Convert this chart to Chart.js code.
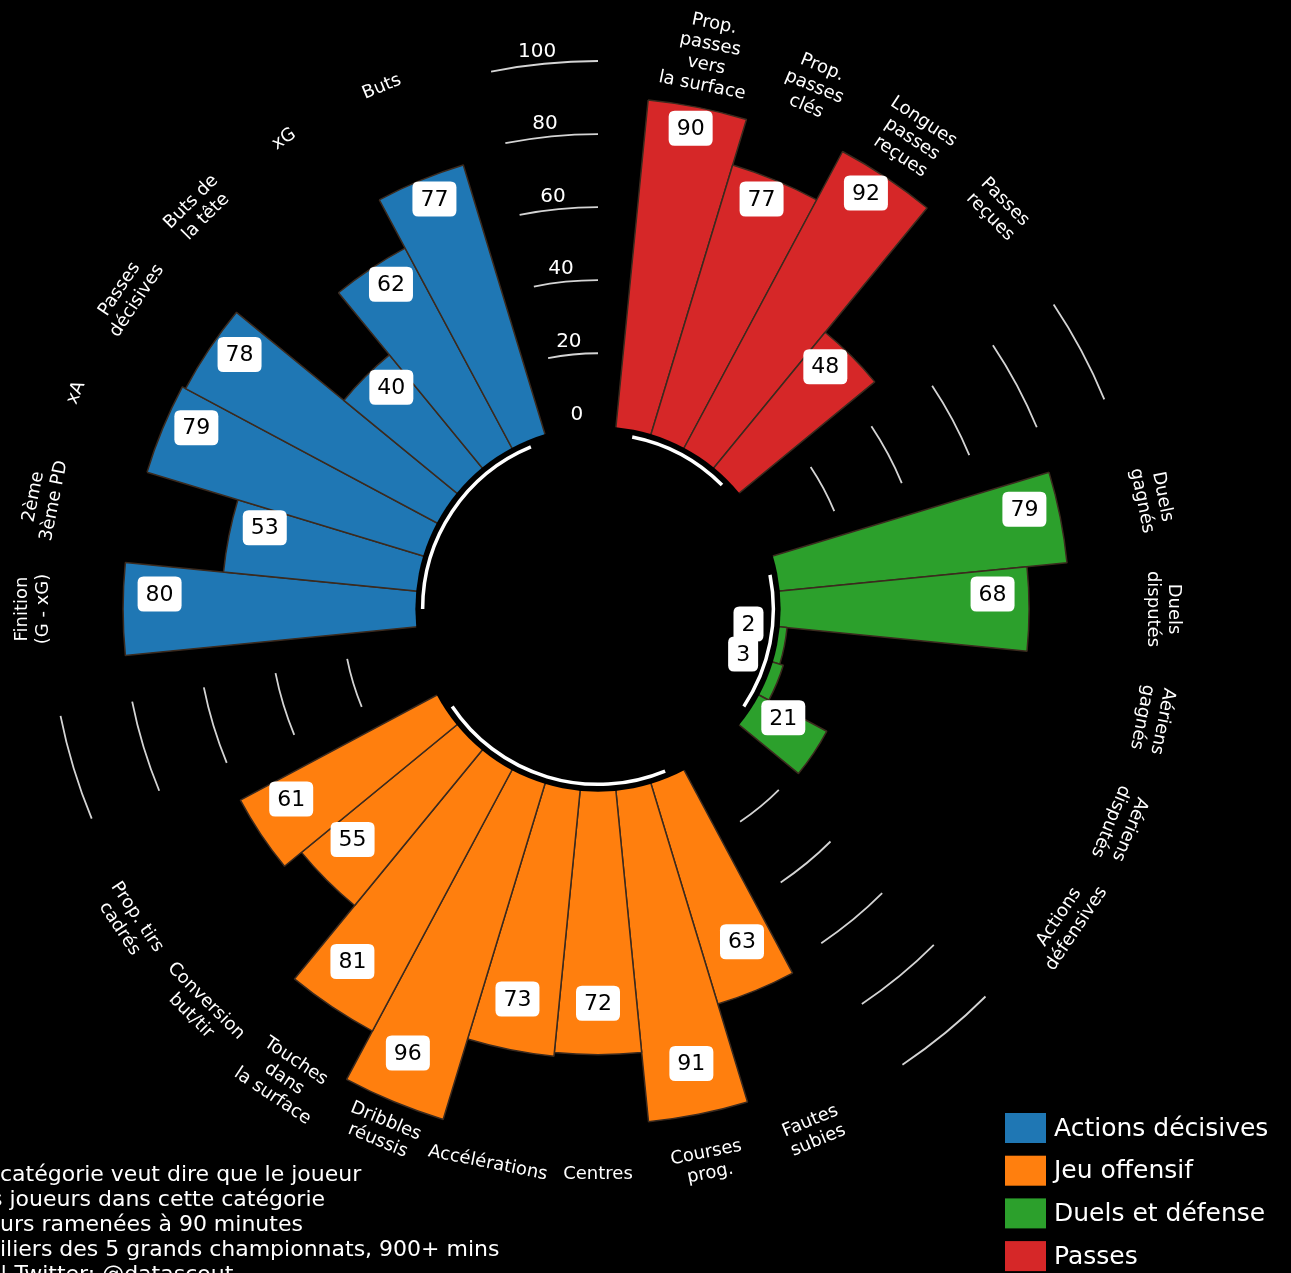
<!DOCTYPE html>
<html>
<head>
<meta charset="utf-8">
<script src="https://cdn.jsdelivr.net/npm/chart.js@4.4.1/dist/chart.umd.min.js"></script>
<style>
  html, body { margin: 0; padding: 0; background: #000; }
  #wrap { width: 1291px; height: 1273px; }
</style>
</head>
<body>
<div id="wrap"><canvas id="pizza" width="1291" height="1273"></canvas></div>
<script>
  // Groups (legend order) and their colours
  const groupNames = ['Actions décisives', 'Jeu offensif', 'Duels et défense', 'Passes'];
  const groupColors = ['#1f77b4', '#ff7f0e', '#2ca02c', '#d62728'];

  // Categories and percentiles, listed clockwise inside each group
  const passesLabels = ['Prop.\npasses\nvers\nla surface', 'Prop.\npasses\nclés', 'Longues\npasses\nreçues', 'Passes\nreçues'];
  const passesValues = [90, 77, 92, 48];

  const duelsLabels = ['Duels\ngagnés', 'Duels\ndisputés', 'Aériens\ngagnés', 'Aériens\ndisputés', 'Actions\ndéfensives'];
  const duelsValues = [79, 68, 2, 3, 21];

  const offensiveLabels = ['Fautes\nsubies', 'Courses\nprog.', 'Centres', 'Accélérations', 'Dribbles\nréussis', 'Touches\ndans\nla surface', 'Conversion\nbut/tir', 'Prop. tirs\ncadrés'];
  const offensiveValues = [63, 91, 72, 73, 96, 81, 55, 61];

  const decisiveLabels = ['Finition\n(G - xG)', '2ème\n3ème PD', 'xA', 'Passes\ndécisives', 'Buts de\nla tête', 'xG', 'Buts'];
  const decisiveValues = [80, 53, 79, 78, 40, 62, 77];

  const tickValues = [0, 20, 40, 60, 80, 100];
  const gridValues = [20, 40, 60, 80, 100];

  const footnote = [
    'catégorie veut dire que le joueur',
    's joueurs dans cette catégorie',
    'urs ramenées à 90 minutes',
    'iliers des 5 grands championnats, 900+ mins',
    '| Twitter: @datascout'
  ];

  // clockwise order of the groups, each followed by two empty slots
  const ringOrder = [
    { group: 3, labels: passesLabels, values: passesValues },
    { group: 2, labels: duelsLabels, values: duelsValues },
    { group: 1, labels: offensiveLabels, values: offensiveValues },
    { group: 0, labels: decisiveLabels, values: decisiveValues }
  ];
  const GAP = 2;

  const slotLabels = [];
  const slotValues = [];
  const slotGroup = [];
  ringOrder.forEach(function (g) {
    g.labels.forEach(function (lab, i) {
      slotLabels.push(lab);
      slotValues.push(g.values[i]);
      slotGroup.push(g.group);
    });
    for (let k = 0; k < GAP; k++) {
      slotLabels.push('');
      slotValues.push(null);
      slotGroup.push(-1);
    }
  });

  const slotDeg = 360 / slotLabels.length;
  const FONT = "'DejaVu Sans', 'Liberation Sans', sans-serif";

  function midAngle(el) {
    return (el.startAngle + el.endAngle) / 2;
  }

  function roundBox(ctx, x, y, w, h, r) {
    ctx.beginPath();
    ctx.moveTo(x + r, y);
    ctx.lineTo(x + w - r, y);
    ctx.quadraticCurveTo(x + w, y, x + w, y + r);
    ctx.lineTo(x + w, y + h - r);
    ctx.quadraticCurveTo(x + w, y + h, x + w - r, y + h);
    ctx.lineTo(x + r, y + h);
    ctx.quadraticCurveTo(x, y + h, x, y + h - r);
    ctx.lineTo(x, y + r);
    ctx.quadraticCurveTo(x, y, x + r, y);
    ctx.closePath();
  }

  const decor = {
    id: 'decor',
    beforeDraw(chart) {
      const ctx = chart.ctx;
      ctx.save();
      ctx.fillStyle = '#000';
      ctx.fillRect(0, 0, chart.width, chart.height);
      ctx.restore();
    },
    afterDatasetsDraw(chart) {
      const ctx = chart.ctx;
      const scale = chart.scales.r;
      const cx = scale.xCenter;
      const cy = scale.yCenter;
      const arcs = chart.getDatasetMeta(0).data;
      const rOf = v => scale.getDistanceFromCenterForValue(v);

      ctx.save();

      // hollow centre
      ctx.fillStyle = '#000';
      ctx.beginPath();
      ctx.arc(cx, cy, rOf(0), 0, Math.PI * 2);
      ctx.fill();

      // white arc under each group
      ctx.strokeStyle = '#fff';
      ctx.lineWidth = 3.5;
      let i = 0;
      while (i < slotGroup.length) {
        if (slotGroup[i] < 0) { i++; continue; }
        let j = i;
        while (j + 1 < slotGroup.length && slotGroup[j + 1] === slotGroup[i]) j++;
        ctx.beginPath();
        ctx.arc(cx, cy, rOf(-2), midAngle(arcs[i]), midAngle(arcs[j]));
        ctx.stroke();
        i = j + 1;
      }

      // grid arcs in the empty slots
      ctx.strokeStyle = 'rgba(235,235,235,0.9)';
      ctx.lineWidth = 1.8;
      for (let s = 0; s < slotGroup.length - 1; s++) {
        if (slotGroup[s] < 0 && slotGroup[s + 1] < 0) {
          gridValues.forEach(function (v) {
            ctx.beginPath();
            ctx.arc(cx, cy, rOf(v), midAngle(arcs[s]), midAngle(arcs[s + 1]));
            ctx.stroke();
          });
        }
      }

      // radial tick labels in the top gap
      const last = slotGroup.length - 1;
      const tickAngle = arcs[last].startAngle - 0.6 * Math.PI / 180;
      ctx.fillStyle = '#fff';
      ctx.font = '20px ' + FONT;
      ctx.textAlign = 'center';
      ctx.textBaseline = 'middle';
      tickValues.forEach(function (v) {
        const r = rOf(v) + 13;
        ctx.fillText(String(v), cx + r * Math.cos(tickAngle), cy + r * Math.sin(tickAngle));
      });

      // category labels around the ring
      ctx.font = '18px ' + FONT;
      const labelR = rOf(100) + 17;
      slotLabels.forEach(function (lab, s) {
        if (!lab) return;
        const a = midAngle(arcs[s]);
        let rot = a + Math.PI / 2;
        let phi = (a * 180 / Math.PI + 90) % 360;
        if (phi < 0) phi += 360;
        if (phi > 120 && phi < 240) rot -= Math.PI;
        const lines = lab.split('\n');
        ctx.save();
        ctx.translate(cx + labelR * Math.cos(a), cy + labelR * Math.sin(a));
        ctx.rotate(rot);
        const lh = 21;
        lines.forEach(function (ln, k) {
          ctx.fillText(ln, 0, (k - (lines.length - 1) / 2) * lh);
        });
        ctx.restore();
      });

      // value boxes
      ctx.font = '22px ' + FONT;
      slotValues.forEach(function (v, s) {
        if (v === null) return;
        const a = midAngle(arcs[s]);
        const r = rOf(v - 10);
        const x = cx + r * Math.cos(a);
        const y = cy + r * Math.sin(a) - 15;
        const txt = String(v);
        const w = ctx.measureText(txt).width + 16;
        const h = 35;
        ctx.fillStyle = '#fff';
        roundBox(ctx, x - w / 2, y - h / 2, w, h, 6);
        ctx.fill();
        ctx.fillStyle = '#000';
        ctx.fillText(txt, x, y + 1);
      });

      // legend
      ctx.textAlign = 'left';
      ctx.font = '25px ' + FONT;
      groupNames.forEach(function (name, k) {
        const y = 1128 + k * 42.7;
        ctx.fillStyle = groupColors[k];
        ctx.fillRect(1005, y - 15, 41, 30);
        ctx.fillStyle = '#fff';
        ctx.fillText(name, 1054, y + 1);
      });

      // footnote (partly outside the frame)
      ctx.font = '22px ' + FONT;
      ctx.textBaseline = 'alphabetic';
      const noteX = [0, -9, 0, 0, 0];
      footnote.forEach(function (ln, k) {
        ctx.fillText(ln, noteX[k], 1181 + k * 25);
      });

      ctx.restore();
    }
  };

  const ctx = document.getElementById('pizza').getContext('2d');
  const pizzaChart = new Chart(ctx, {
    type: 'polarArea',
    data: {
      labels: slotLabels,
      datasets: [{
        data: slotValues,
        backgroundColor: slotGroup.map(g => g < 0 ? 'rgba(0,0,0,0)' : groupColors[g]),
        borderColor: slotGroup.map(g => g < 0 ? 'rgba(0,0,0,0)' : '#3b2a1e'),
        borderWidth: 1.5
      }]
    },
    options: {
      responsive: false,
      animation: false,
      events: [],
      layout: { padding: { left: 50, top: 61, right: 145, bottom: 116 } },
      scales: {
        r: {
          min: -50,
          max: 100,
          startAngle: slotDeg / 2,
          ticks: { display: false },
          grid: { display: false },
          angleLines: { display: false },
          pointLabels: { display: false }
        }
      },
      plugins: {
        legend: { display: false },
        tooltip: { enabled: false }
      }
    },
    plugins: [decor]
  });
</script>
</body>
</html>
